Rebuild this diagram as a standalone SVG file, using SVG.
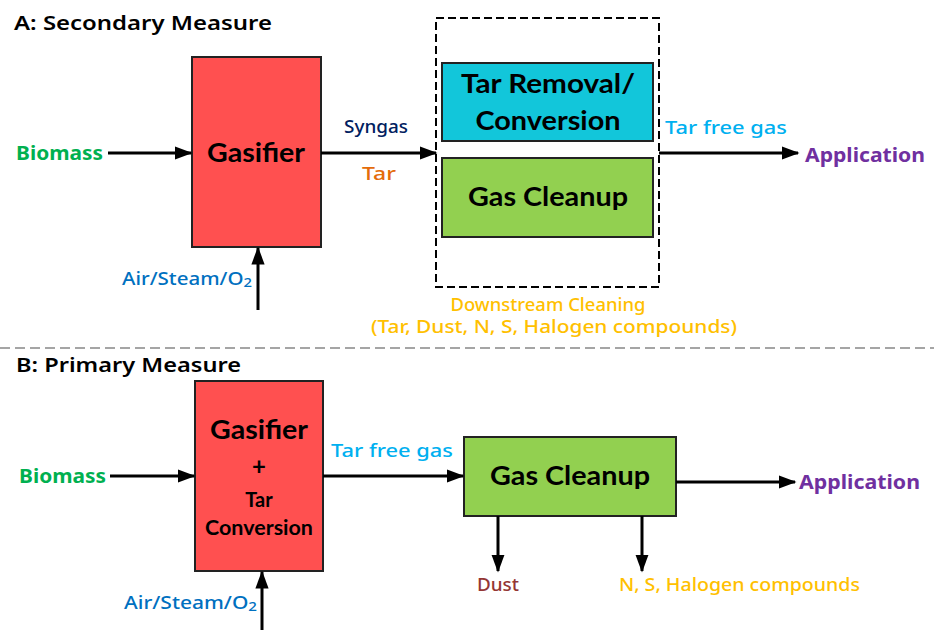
<svg xmlns="http://www.w3.org/2000/svg" width="934" height="630" viewBox="0 0 934 630">
<defs>
<marker id="arr" markerWidth="6" markerHeight="4.4" refX="5.5" refY="2.2" orient="auto" markerUnits="strokeWidth">
<path d="M0,0 L6,2.2 L0,4.4 Z" fill="#000"/>
</marker>
<style>
.lbl{font-family:"Comic Sans MS","Noto Sans",sans-serif;font-size:18px;font-weight:500;}
.big{font-family:"Comic Sans MS","Noto Sans",sans-serif;font-size:20px;font-weight:bold;}
.ttl{font-family:"Comic Sans MS","Noto Sans",sans-serif;font-size:20px;font-weight:600;fill:#000;}
.box{font-family:Lato,"Open Sans",sans-serif;font-weight:bold;fill:#000;text-anchor:middle;}
.edge{stroke:#000;stroke-width:3;fill:none;marker-end:url(#arr);}
.node rect{stroke:#222;stroke-width:2;}
</style>
</defs>
<rect width="934" height="630" fill="#fff"/>

<!-- Section A -->
<text class="ttl" x="14" y="30" textLength="258" lengthAdjust="spacingAndGlyphs">A: Secondary Measure</text>

<g id="gasifierA" class="node">
<rect x="192" y="57" width="129" height="190" fill="#FF5050"/>
<text class="box" x="256" y="162" font-size="27" textLength="98" lengthAdjust="spacingAndGlyphs">Gasifier</text>
</g>

<g id="downstream">
<rect x="436" y="18" width="223" height="269" fill="none" stroke="#000" stroke-width="2" stroke-dasharray="8,4"/>
<text class="lbl" x="548" y="311" fill="#FFC000" text-anchor="middle" textLength="195" lengthAdjust="spacingAndGlyphs">Downstream Cleaning</text>
<text class="lbl" x="554" y="333" fill="#FFC000" text-anchor="middle" textLength="366" lengthAdjust="spacingAndGlyphs">(Tar, Dust, N, S, Halogen compounds)</text>
</g>

<g id="tarRemoval" class="node">
<rect x="442" y="63" width="211" height="78" fill="#12C6DA"/>
<text class="box" x="548" y="93" font-size="27" textLength="174" lengthAdjust="spacingAndGlyphs">Tar Removal/</text>
<text class="box" x="548" y="130" font-size="27" textLength="145" lengthAdjust="spacingAndGlyphs">Conversion</text>
</g>

<g id="gasCleanupA" class="node">
<rect x="442" y="158" width="211" height="79" fill="#92D050"/>
<text class="box" x="548" y="206" font-size="27" textLength="160" lengthAdjust="spacingAndGlyphs">Gas Cleanup</text>
</g>

<g id="labelsA">
<text class="big" x="16" y="160" fill="#00B050" textLength="87" lengthAdjust="spacingAndGlyphs">Biomass</text>
<text class="lbl" x="344" y="133" fill="#002060" textLength="64" lengthAdjust="spacingAndGlyphs">Syngas</text>
<text class="lbl" x="362" y="180" fill="#E46C0A" textLength="34" lengthAdjust="spacingAndGlyphs">Tar</text>
<text class="lbl" x="122" y="285" fill="#0070C0" textLength="130" lengthAdjust="spacingAndGlyphs">Air/Steam/O<tspan font-size="13" dy="2">2</tspan></text>
<text class="lbl" x="665" y="134" fill="#00B0F0" textLength="122" lengthAdjust="spacingAndGlyphs">Tar free gas</text>
<text class="big" x="805" y="162" fill="#7030A0" textLength="120" lengthAdjust="spacingAndGlyphs">Application</text>
</g>

<!-- divider -->
<line x1="0" y1="348" x2="934" y2="348" stroke="#888" stroke-width="1.5" stroke-dasharray="10,5"/>

<!-- Section B -->
<text class="ttl" x="16" y="372" textLength="225" lengthAdjust="spacingAndGlyphs">B: Primary Measure</text>

<g id="gasifierB" class="node">
<rect x="195" y="381" width="128" height="190" fill="#FF5050"/>
<text class="box" x="259" y="439" font-size="27" textLength="98" lengthAdjust="spacingAndGlyphs">Gasifier</text>
<text class="box" x="259" y="475" font-size="24">+</text>
<text class="box" x="259" y="507" font-size="20">Tar</text>
<text class="box" x="259" y="535" font-size="20" textLength="108" lengthAdjust="spacingAndGlyphs">Conversion</text>
</g>

<g id="gasCleanupB" class="node">
<rect x="464" y="437" width="212" height="79" fill="#92D050"/>
<text class="box" x="570" y="485" font-size="27" textLength="160" lengthAdjust="spacingAndGlyphs">Gas Cleanup</text>
</g>

<g id="labelsB">
<text class="big" x="19" y="483" fill="#00B050" textLength="87" lengthAdjust="spacingAndGlyphs">Biomass</text>
<text class="lbl" x="331" y="457" fill="#00B0F0" textLength="122" lengthAdjust="spacingAndGlyphs">Tar free gas</text>
<text class="big" x="799" y="489" fill="#7030A0" textLength="121" lengthAdjust="spacingAndGlyphs">Application</text>
<text class="lbl" x="477" y="591" fill="#943634" textLength="42" lengthAdjust="spacingAndGlyphs">Dust</text>
<text class="lbl" x="619" y="591" fill="#FFC000" textLength="241" lengthAdjust="spacingAndGlyphs">N, S, Halogen compounds</text>
<text class="lbl" x="124" y="609" fill="#0070C0" textLength="133" lengthAdjust="spacingAndGlyphs">Air/Steam/O<tspan font-size="13" dy="2">2</tspan></text>
</g>

<g id="connectors">
<line class="edge" x1="108" y1="153" x2="191" y2="153"/>
<line class="edge" x1="321" y1="153" x2="436" y2="153"/>
<line class="edge" x1="258" y1="310" x2="258" y2="248"/>
<line class="edge" x1="659" y1="153" x2="798" y2="153"/>
<line class="edge" x1="110" y1="476" x2="194" y2="476"/>
<line class="edge" x1="323" y1="476" x2="463" y2="476"/>
<line class="edge" x1="262" y1="630" x2="262" y2="572"/>
<line class="edge" x1="676" y1="482" x2="795" y2="482"/>
<line class="edge" x1="498" y1="516" x2="498" y2="571"/>
<line class="edge" x1="642" y1="516" x2="642" y2="571"/>
</g>
</svg>
